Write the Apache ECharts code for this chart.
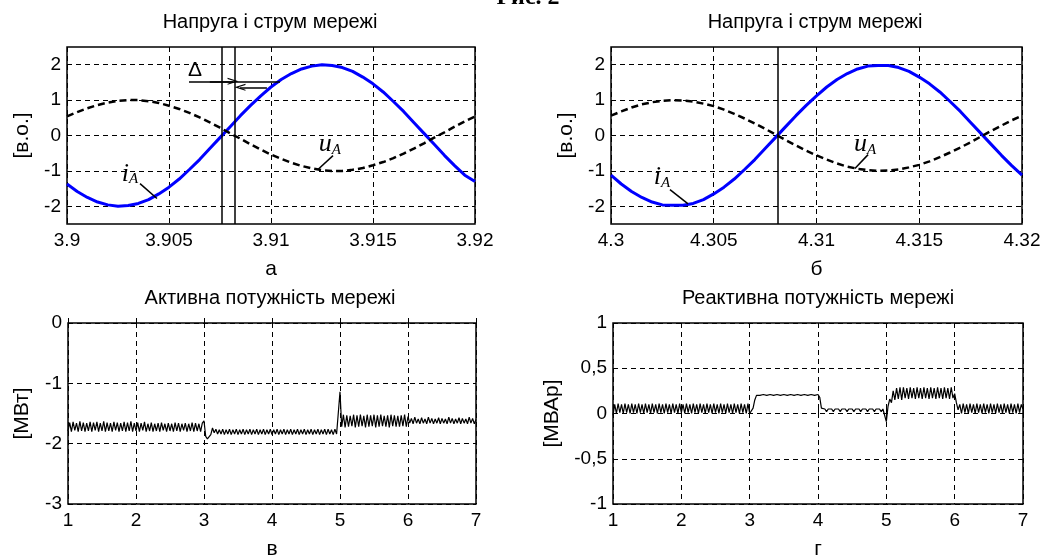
<!DOCTYPE html>
<html><head><meta charset="utf-8">
<script src="https://cdn.jsdelivr.net/npm/echarts@6/dist/echarts.min.js"></script>
<style>html,body{margin:0;padding:0;background:#fff}#c{width:1056px;height:556px}</style>
</head><body><div id="c"></div>
<script>
const tA0 = 3.9, tB0 = 4.3, tStepTop = 0.0005;   // top panels time sampling
const tP0 = 1, tStepBot = 0.025;                 // bottom panels time sampling

const iA_a = [-1.37,-1.58,-1.75,-1.88,-1.96,-2.00,-1.98,-1.92,-1.81,-1.65,-1.46,-1.23,-0.96,-0.68,-0.37,-0.06,0.25,0.56,0.85,1.12,1.37,1.58,1.75,1.88,1.96,2.00,1.98,1.92,1.81,1.65,1.46,1.23,0.96,0.68,0.37,0.06,-0.25,-0.56,-0.85,-1.12,-1.30];
const uA_a = [0.54,0.66,0.77,0.86,0.93,0.98,1.00,1.00,0.97,0.92,0.84,0.75,0.64,0.51,0.37,0.22,0.06,-0.09,-0.25,-0.40,-0.54,-0.66,-0.77,-0.86,-0.93,-0.98,-1.00,-1.00,-0.97,-0.92,-0.84,-0.75,-0.64,-0.51,-0.37,-0.22,-0.06,0.09,0.25,0.40,0.54];
const iA_b = [-1.12,-1.37,-1.58,-1.75,-1.88,-1.96,-1.97,-1.97,-1.92,-1.81,-1.65,-1.46,-1.23,-0.96,-0.68,-0.37,-0.06,0.25,0.56,0.85,1.12,1.37,1.58,1.75,1.88,1.96,1.98,1.98,1.92,1.81,1.65,1.46,1.23,0.96,0.68,0.37,0.06,-0.25,-0.56,-0.85,-1.12];
const uA_b = [0.56,0.68,0.79,0.88,0.94,0.98,1.00,0.99,0.96,0.90,0.83,0.73,0.61,0.48,0.34,0.19,0.03,-0.13,-0.28,-0.43,-0.56,-0.68,-0.79,-0.88,-0.94,-0.98,-1.00,-0.99,-0.96,-0.90,-0.83,-0.73,-0.61,-0.48,-0.34,-0.19,-0.03,0.13,0.28,0.43,0.56];

const P = [
-1.79,-1.65,-1.80,-1.64,-1.78,-1.66,-1.80,-1.63,-1.79,-1.65,
-1.80,-1.66,-1.79,-1.64,-1.80,-1.65,-1.78,-1.64,-1.80,-1.66,
-1.79,-1.63,-1.80,-1.65,-1.79,-1.66,-1.80,-1.64,-1.78,-1.65,
-1.80,-1.66,-1.79,-1.64,-1.80,-1.65,-1.79,-1.63,-1.80,-1.66,
-1.79,-1.65,-1.80,-1.66,-1.78,-1.64,-1.80,-1.67,-1.79,-1.65,
-1.80,-1.67,-1.79,-1.66,-1.80,-1.65,-1.78,-1.67,-1.80,-1.66,
-1.79,-1.67,-1.80,-1.65,-1.79,-1.66,-1.80,-1.67,-1.78,-1.66,
-1.80,-1.67,-1.79,-1.65,-1.80,-1.66,-1.79,-1.67,-1.80,-1.66,
-1.62,-1.88,-1.92,-1.92,-1.85,-1.74,-1.82,-1.76,-1.84,-1.77,
-1.84,-1.76,-1.85,-1.77,-1.84,-1.76,-1.85,-1.77,-1.84,-1.76,
-1.85,-1.77,-1.84,-1.76,-1.85,-1.77,-1.84,-1.76,-1.85,-1.77,
-1.84,-1.76,-1.85,-1.77,-1.84,-1.76,-1.85,-1.77,-1.84,-1.76,
-1.85,-1.77,-1.84,-1.76,-1.85,-1.77,-1.84,-1.76,-1.85,-1.77,
-1.84,-1.76,-1.85,-1.77,-1.84,-1.76,-1.85,-1.77,-1.84,-1.76,
-1.85,-1.77,-1.84,-1.76,-1.85,-1.77,-1.84,-1.76,-1.85,-1.77,
-1.84,-1.76,-1.85,-1.76,-1.84,-1.77,-1.85,-1.76,-1.84,-1.86,
-1.14,-1.72,-1.52,-1.73,-1.53,-1.72,-1.54,-1.71,-1.52,-1.73,
-1.53,-1.72,-1.52,-1.71,-1.54,-1.73,-1.52,-1.72,-1.53,-1.71,
-1.52,-1.73,-1.53,-1.72,-1.52,-1.71,-1.54,-1.72,-1.53,-1.73,
-1.52,-1.71,-1.53,-1.72,-1.54,-1.72,-1.53,-1.71,-1.52,-1.72,
-1.55,-1.66,-1.58,-1.67,-1.56,-1.66,-1.59,-1.67,-1.57,-1.66,
-1.59,-1.67,-1.56,-1.66,-1.58,-1.67,-1.59,-1.66,-1.57,-1.67,
-1.58,-1.66,-1.59,-1.67,-1.56,-1.66,-1.58,-1.67,-1.59,-1.66,
-1.57,-1.67,-1.58,-1.66,-1.59,-1.67,-1.56,-1.66,-1.58,-1.67,
-1.60];

const Q = [
-0.02,0.10,0.00,0.11,0.01,0.10,0.00,0.11,0.01,0.10,
0.00,0.11,0.01,0.10,0.00,0.11,0.01,0.10,0.00,0.11,
0.01,0.10,0.00,0.11,0.01,0.10,0.00,0.11,0.01,0.10,
0.00,0.11,0.01,0.10,0.00,0.11,0.01,0.10,0.00,0.11,
0.01,0.10,0.00,0.11,0.01,0.10,0.00,0.11,0.01,0.10,
0.00,0.11,0.01,0.10,0.00,0.11,0.01,0.10,0.00,0.11,
0.01,0.10,0.00,0.11,0.01,0.10,0.00,0.11,0.01,0.10,
0.00,0.11,0.01,0.10,0.00,0.11,0.01,0.10,0.00,0.11,
0.00,0.02,0.06,0.15,0.20,0.22,0.20,0.22,0.21,0.22,
0.20,0.22,0.21,0.22,0.20,0.22,0.21,0.22,0.20,0.22,
0.21,0.22,0.20,0.22,0.21,0.22,0.20,0.22,0.21,0.22,
0.20,0.22,0.21,0.22,0.20,0.22,0.21,0.22,0.20,0.22,
0.21,0.18,0.06,0.04,0.05,0.02,0.05,0.03,0.05,0.02,
0.05,0.03,0.05,0.02,0.05,0.03,0.05,0.02,0.05,0.03,
0.05,0.02,0.05,0.03,0.05,0.02,0.05,0.03,0.05,0.02,
0.05,0.03,0.05,0.02,0.05,0.03,0.05,0.02,0.05,0.04,
-0.09,0.08,0.16,0.12,0.25,0.15,0.28,0.16,0.29,0.15,
0.29,0.17,0.28,0.16,0.29,0.17,0.28,0.16,0.29,0.17,
0.28,0.16,0.29,0.17,0.28,0.16,0.29,0.17,0.28,0.16,
0.29,0.17,0.28,0.16,0.29,0.17,0.28,0.16,0.29,0.17,
0.22,0.12,0.04,0.10,0.00,0.11,0.01,0.10,0.00,0.11,
0.01,0.10,0.00,0.11,0.01,0.10,0.00,0.11,0.01,0.10,
0.00,0.11,0.01,0.10,0.00,0.11,0.01,0.10,0.00,0.11,
0.01,0.10,0.00,0.11,0.01,0.10,0.00,0.11,0.01,0.10,
0.05];

const yTicksTop = [-2, -1, 0, 1, 2];
const vLinesA = [3.9076, 3.9082];
const vLinesB = [4.3081];
const titles = ['Напруга і струм мережі', 'Напруга і струм мережі', 'Активна потужність мережі', 'Реактивна потужність мережі'];
const subLabels = ['а', 'б', 'в', 'г'];
const yNames = ['[в.о.]', '[в.о.]', '[МВт]', '[МВАр]'];

// ---- build ----
const pairs = (t0, dt, ys) => ys.map((v, i) => [+(t0 + i * dt).toFixed(4), v]);
const FONT = 'Liberation Sans, Arial, sans-serif';
const SERIF = 'Liberation Serif, Times New Roman, serif';
const DASH = [5, 4];
const arrowHead = 'path://M0,10 L5,0 L10,10 L8.3,10 L5,3.4 L1.7,10 Z';

function xAx(gi, min, max, interval, fmt, name) {
  return {
    type: 'value', gridIndex: gi, min, max, interval,
    axisLine: { show: false },
    axisTick: { show: true, inside: true, length: 5, lineStyle: { color: '#000' } },
    splitLine: { show: true, lineStyle: { color: '#000', type: DASH, width: 1 } },
    axisLabel: { color: '#000', fontSize: 19, fontFamily: FONT, margin: 7, formatter: fmt },
    name, nameLocation: 'middle', nameGap: 35,
    nameTextStyle: { color: '#000', fontSize: 21, fontFamily: FONT }
  };
}
function yAx(gi, min, max, interval, fmt, name, gap, custom) {
  const a = {
    type: 'value', gridIndex: gi, min, max,
    axisLine: { show: false },
    axisTick: { show: true, inside: true, length: 5, lineStyle: { color: '#000' } },
    splitLine: { show: true, lineStyle: { color: '#000', type: DASH, width: 1 } },
    axisLabel: { color: '#000', fontSize: 19, fontFamily: FONT, margin: 6, formatter: fmt },
    name, nameLocation: 'middle', nameGap: gap, nameRotate: 90,
    nameTextStyle: { color: '#000', fontSize: 21, fontFamily: FONT }
  };
  if (custom) { a.axisLabel.customValues = custom; a.axisTick.customValues = custom; }
  else a.interval = interval;
  return a;
}
const fmt4 = v => String(+v.toFixed(4));
const fmtInt = v => String(+v.toFixed(2));
const fmtComma = v => String(+v.toFixed(2)).replace('.', ',');

const gridBase = { show: true, borderColor: '#000', borderWidth: 1.5, backgroundColor: 'transparent', containLabel: false, outerBoundsMode: 'none' };
const grids = [
  Object.assign({ left: 67, top: 47, width: 408, height: 177 }, gridBase),
  Object.assign({ left: 611, top: 47, width: 411, height: 177 }, gridBase),
  Object.assign({ left: 68, top: 323, width: 408, height: 181 }, gridBase),
  Object.assign({ left: 613, top: 323, width: 410, height: 181 }, gridBase)
];

function lbl(x, y, main, sub) {
  return {
    coord: [x, y], symbol: 'rect', symbolSize: 1, itemStyle: { color: 'rgba(0,0,0,0)' },
    label: {
      show: true, position: 'inside', color: '#000',
      formatter: sub ? '{m|' + main + '}{s|' + sub + '}' : '{d|' + main + '}',
      rich: {
        m: { fontFamily: SERIF, fontStyle: 'italic', fontSize: 26, lineHeight: 26, verticalAlign: 'top', color: '#000' },
        s: { fontFamily: SERIF, fontStyle: 'italic', fontSize: 15, lineHeight: 15, padding: [11, 0, 0, 0], verticalAlign: 'top', color: '#000' },
        d: { fontFamily: FONT, fontSize: 21, color: '#000' }
      }
    }
  };
}
const seg = (a, b, withArrow) => [
  { coord: a, symbol: 'none' },
  withArrow ? { coord: b, symbol: arrowHead, symbolSize: [7, 11] } : { coord: b, symbol: 'none' }
];

const mlStyle = { color: '#000', width: 1.5, type: 'solid' };

const option = {
  animation: false,
  grid: grids,
  xAxis: [
    xAx(0, 3.9, 3.92, 0.005, fmt4, subLabels[0]),
    xAx(1, 4.3, 4.32, 0.005, fmt4, subLabels[1]),
    xAx(2, 1, 7, 1, fmtInt, subLabels[2]),
    xAx(3, 1, 7, 1, fmtInt, subLabels[3])
  ],
  yAxis: [
    yAx(0, -2.5, 2.5, null, fmtInt, yNames[0], 34, yTicksTop),
    yAx(1, -2.5, 2.5, null, fmtInt, yNames[1], 34, yTicksTop),
    yAx(2, -3, 0, 1, fmtInt, yNames[2], 35, null),
    yAx(3, -1, 1, 0.5, fmtComma, yNames[3], 50, null)
  ],
  series: [
    {
      type: 'line', xAxisIndex: 0, yAxisIndex: 0, data: pairs(tA0, tStepTop, iA_a),
      showSymbol: false, lineStyle: { color: '#0000ff', width: 3 }, itemStyle: { color: '#0000ff' }, z: 3,
      markLine: {
        silent: true, precision: 6, symbol: ['none', 'none'], label: { show: false }, lineStyle: mlStyle,
        data: [
          ...vLinesA.map(v => ({ xAxis: v })),
          seg([3.90598, 1.53], [3.91044, 1.53], false),
          seg([3.90700, 1.53], [3.90814, 1.53], true),
          seg([3.9098, 1.36], [3.90848, 1.36], true),
          seg([3.90358, -1.36], [3.90441, -1.78], false),
          seg([3.91304, -0.57], [3.91230, -0.96], false)
        ]
      },
      markPoint: { silent: true, data: [lbl(3.90627, 1.84, 'Δ'), lbl(3.90309, -1.08, 'i', 'A'), lbl(3.91289, -0.25, 'u', 'A')] }
    },
    {
      type: 'line', xAxisIndex: 0, yAxisIndex: 0, data: pairs(tA0, tStepTop, uA_a),
      showSymbol: false, lineStyle: { color: '#000', width: 2.5, type: [7, 4] }, itemStyle: { color: '#000' }, z: 4
    },
    {
      type: 'line', xAxisIndex: 1, yAxisIndex: 1, data: pairs(tB0, tStepTop, iA_b),
      showSymbol: false, lineStyle: { color: '#0000ff', width: 3 }, itemStyle: { color: '#0000ff' }, z: 3,
      markLine: {
        silent: true, precision: 6, symbol: ['none', 'none'], label: { show: false }, lineStyle: mlStyle,
        data: [
          ...vLinesB.map(v => ({ xAxis: v })),
          seg([4.30287, -1.53], [4.30375, -1.93], false),
          seg([4.31251, -0.54], [4.31187, -0.93], false)
        ]
      },
      markPoint: { silent: true, data: [lbl(4.30248, -1.19, 'i', 'A'), lbl(4.31236, -0.25, 'u', 'A')] }
    },
    {
      type: 'line', xAxisIndex: 1, yAxisIndex: 1, data: pairs(tB0, tStepTop, uA_b),
      showSymbol: false, lineStyle: { color: '#000', width: 2.5, type: [7, 4] }, itemStyle: { color: '#000' }, z: 4
    },
    {
      type: 'line', xAxisIndex: 2, yAxisIndex: 2, data: pairs(tP0, tStepBot, P),
      showSymbol: false, lineStyle: { color: '#000', width: 1.2 }, itemStyle: { color: '#000' }
    },
    {
      type: 'line', xAxisIndex: 3, yAxisIndex: 3, data: pairs(tP0, tStepBot, Q),
      showSymbol: false, lineStyle: { color: '#000', width: 1.2 }, itemStyle: { color: '#000' }
    }
  ],
  graphic: [
    { type: 'text', style: { text: 'Рис. 2', x: 528, y: 10, font: 'bold 24px ' + SERIF, fill: '#000', textAlign: 'center', textVerticalAlign: 'bottom', verticalAlign: 'bottom' } },
    { type: 'text', style: { text: titles[0], x: 270, y: 22, font: '20px ' + FONT, fill: '#000', textAlign: 'center', textVerticalAlign: 'middle', verticalAlign: 'middle' } },
    { type: 'text', style: { text: titles[1], x: 815, y: 22, font: '20px ' + FONT, fill: '#000', textAlign: 'center', textVerticalAlign: 'middle', verticalAlign: 'middle' } },
    { type: 'text', style: { text: titles[2], x: 270, y: 298, font: '20px ' + FONT, fill: '#000', textAlign: 'center', textVerticalAlign: 'middle', verticalAlign: 'middle' } },
    { type: 'text', style: { text: titles[3], x: 818, y: 298, font: '20px ' + FONT, fill: '#000', textAlign: 'center', textVerticalAlign: 'middle', verticalAlign: 'middle' } }
  ]
};
const chart = echarts.init(document.getElementById('c'), null, { renderer: 'canvas' });
chart.setOption(option);
</script></body></html>
